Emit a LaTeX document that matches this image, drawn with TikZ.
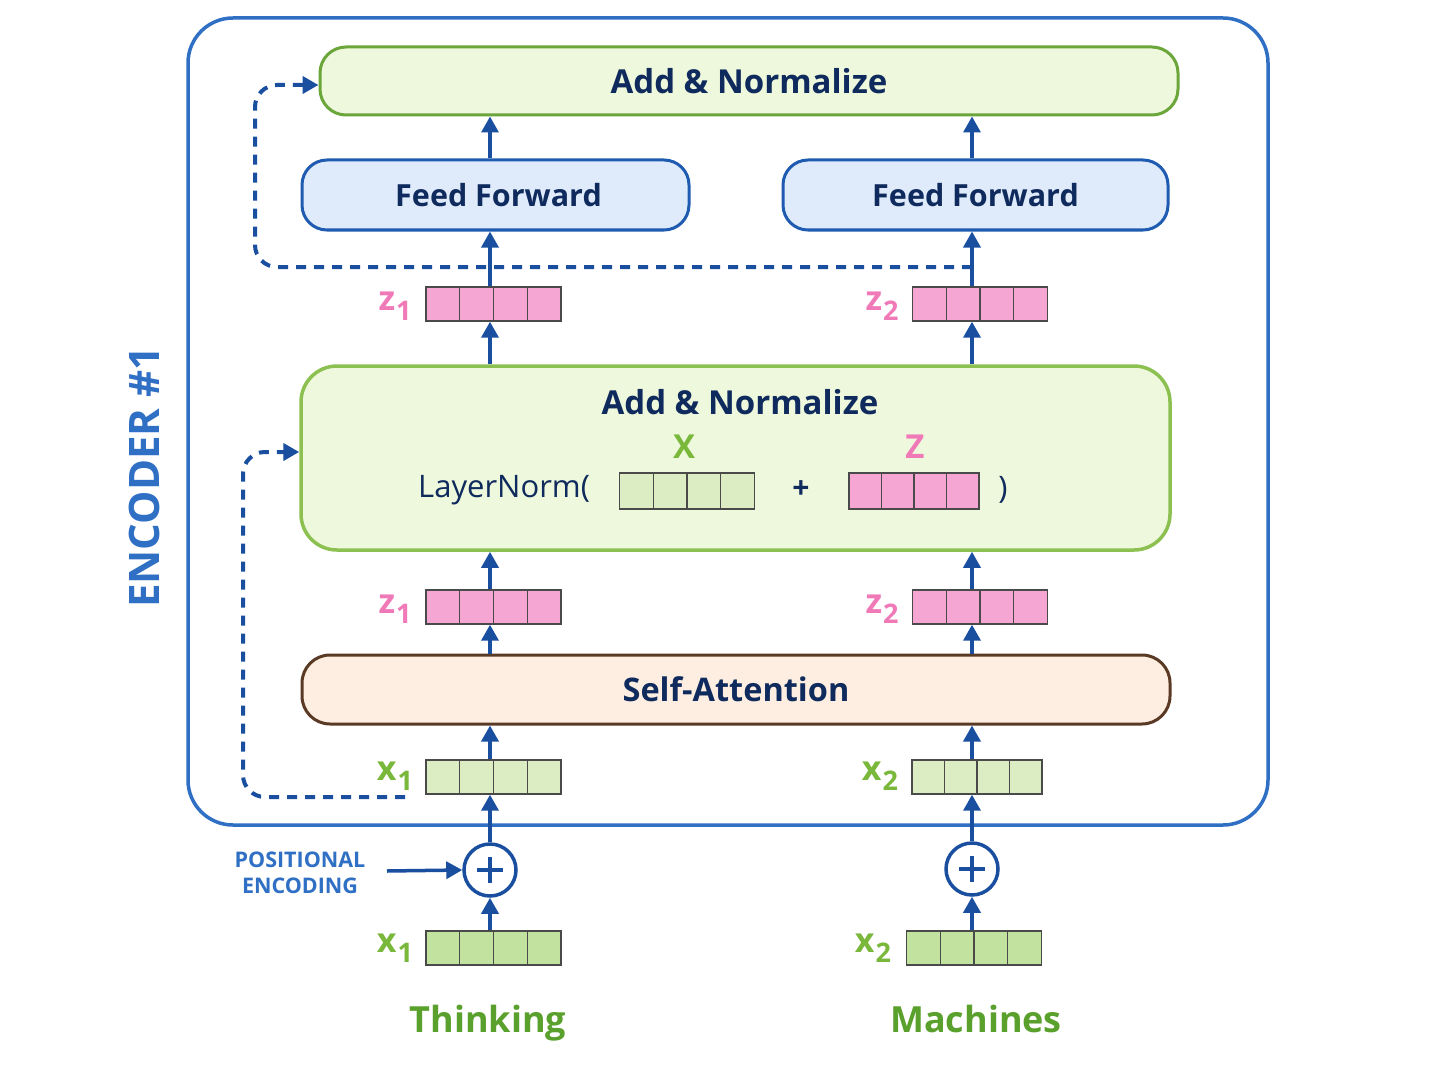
\documentclass[tikz,border=0pt]{standalone}
\usepackage{fontspec}
\setmainfont{Open Sans}
\usetikzlibrary{arrows.meta,calc}
\definecolor{navy}{HTML}{0F2A5C}
\definecolor{encblue}{HTML}{2F6FC4}
\definecolor{arrblue}{HTML}{1A4FA0}
\definecolor{pinkfill}{HTML}{F6A6D2}
\definecolor{pinktext}{HTML}{F07AB8}
\definecolor{greentext}{HTML}{7AB83C}
\definecolor{greendark}{HTML}{5AA02C}
\definecolor{gfillA}{HTML}{DCEDC3}
\definecolor{gfillB}{HTML}{C2E3A0}
\definecolor{vecline}{HTML}{4A4A4A}
\definecolor{addfill}{HTML}{EEF8DC}
\definecolor{addline}{HTML}{6AA63A}
\definecolor{addline2}{HTML}{8CC152}
\definecolor{fffill}{HTML}{DFEBFB}
\definecolor{ffline}{HTML}{1F5BB0}
\definecolor{safill}{HTML}{FDEEE1}
\definecolor{saline}{HTML}{5A3A25}
\tikzset{
  vec/.style={draw=vecline, line width=1.4pt, minimum width=135pt, minimum height=34pt, inner sep=0pt,
    path picture={\foreach \k in {1,2,3}{\draw[vecline,line width=1.4pt]
      ($(path picture bounding box.south west)!\k/4!(path picture bounding box.south east)$) --
      ($(path picture bounding box.north west)!\k/4!(path picture bounding box.north east)$);}}},
  pinkvec/.style={vec, fill=pinkfill},
  gvecA/.style={vec, fill=gfillA},
  gvecB/.style={vec, fill=gfillB},
  arr/.style={draw=arrblue, line width=3.5pt, -{Triangle[length=16pt,width=17pt]}},
  dashline/.style={draw=arrblue, line width=4pt, dash pattern=on 10pt off 8pt, rounded corners=22pt, -{Triangle[length=16pt,width=17pt]}},
  addbox/.style={draw=addline, fill=addfill, line width=3pt, rounded corners=26pt, inner sep=0pt},
  ffbox/.style={draw=ffline, fill=fffill, line width=3pt, rounded corners=25pt, minimum width=387pt, minimum height=70pt, inner sep=0pt,
    font=\fontsize{30.5}{36}\selectfont\bfseries, text=navy},
  sabox/.style={draw=saline, fill=safill, line width=3pt, rounded corners=28pt, inner sep=0pt,
    font=\fontsize{32.5}{36}\selectfont\bfseries, text=navy},
  plusnode/.style={circle, draw=arrblue, line width=3.5pt, minimum size=52pt, inner sep=0pt, fill=white,
    path picture={\draw[arrblue,line width=3.5pt] ([xshift=-13pt]path picture bounding box.center) -- ([xshift=13pt]path picture bounding box.center);
                  \draw[arrblue,line width=3.5pt] ([yshift=-13pt]path picture bounding box.center) -- ([yshift=13pt]path picture bounding box.center);}},
  zlab/.style={text=pinktext, font=\fontsize{34}{34}\selectfont\bfseries, inner sep=0pt},
  xlab/.style={text=greentext, font=\fontsize{34}{34}\selectfont\bfseries, inner sep=0pt},
  word/.style={text=greendark, font=\fontsize{36}{40}\selectfont\bfseries, anchor=base, inner sep=0pt},
}
\newcommand{\subs}[2]{#1\kern1pt\raisebox{-0.28em}{\fontsize{27}{27}\selectfont #2}}
\begin{document}
\begin{tikzpicture}[x=1pt,y=-1pt]
\useasboundingbox[fill=white] (0,0) rectangle (1448,1086);
\coordinate (c1) at (490,0);
\coordinate (c2) at (972,0);
% encoder frame
\draw[encblue, line width=3.5pt, rounded corners=45pt] (188,18) rectangle (1268,825);
\node[rotate=90, text=encblue, font=\fontsize{42}{42}\selectfont\bfseries] (enc) at (144,477) {ENCODER \#1};
% top add & normalize
\node[addbox, minimum width=858pt, minimum height=68pt, font=\fontsize{33}{36}\selectfont\bfseries, text=navy] (addtop) at (749,81) {Add \& Normalize};
% feed forwards
\node[ffbox] (ff1) at (495.5,195) {\hspace*{6pt}Feed Forward};
\node[ffbox, minimum width=385pt] (ff2) at (975.5,195) {Feed Forward};
% z vectors upper
\node[pinkvec] (zu1) at (493.5,304) {};
\node[pinkvec] (zu2) at (980,304) {};
\node[zlab] (zu1l) at (395,306) {\subs{z}{1}};
\node[zlab] (zu2l) at (882,306) {\subs{z}{2}};
% middle add & normalize
\node[draw=addline2, fill=addfill, line width=3.5pt, rounded corners=36pt, minimum width=869pt, minimum height=184pt, inner sep=0pt] (mid) at (735.5,458) {};
\node[text=navy, font=\fontsize{33}{36}\selectfont\bfseries] (midt) at (740,402) {Add \& Normalize};
\node[text=greentext, font=\fontsize{33}{33}\selectfont\bfseries] (xl) at (684,447) {X};
\node[text=pinktext, font=\fontsize{33}{33}\selectfont\bfseries] (zl) at (915,447) {Z};
\node[text=navy, font=\fontsize{31}{34}\selectfont, anchor=west, inner sep=0pt] (ln) at (418,490) {LayerNorm(};
\node[gvecA, minimum height=36pt] (lx) at (687,491) {};
\node[text=navy, font=\fontsize{30}{32}\selectfont\bfseries] (plus) at (801,490) {+};
\node[pinkvec, minimum width=130pt, minimum height=36pt] (lz) at (914,491) {};
\node[text=navy, font=\fontsize{31}{34}\selectfont] (rp) at (1003,490) {)};
% z vectors lower
\node[pinkvec] (zl1) at (493.5,607) {};
\node[pinkvec] (zl2) at (980,607) {};
\node[zlab] (zl1l) at (395,609) {\subs{z}{1}};
\node[zlab] (zl2l) at (882,609) {\subs{z}{2}};
% self-attention
\node[sabox, minimum width=868pt, minimum height=69pt] (sa) at (736,689.5) {Self-Attention};
% x vectors inside
\node[gvecA] (xi1) at (493.5,777) {};
\node[gvecA, minimum width=130pt] (xi2) at (977,777) {};
\node[xlab] (xi1l) at (395,776) {\subs{x}{1}};
\node[xlab] (xi2l) at (880,776) {\subs{x}{2}};
% plus circles
\node[plusnode] (p1) at (490,870) {};
\node[plusnode] (p2) at (972,869) {};
\node[text=encblue, font=\fontsize{21.5}{26}\selectfont\bfseries, align=center] (pe) at (300,873) {POSITIONAL\\ENCODING};
% bottom x vectors
\node[gvecB] (xb1) at (493.5,948) {};
\node[gvecB] (xb2) at (974,948) {};
\node[xlab] (xb1l) at (395,948) {\subs{x}{1}};
\node[xlab] (xb2l) at (873,948) {\subs{x}{2}};
\node[word] (w1) at (488,1032) {Thinking};
\node[word] (w2) at (976,1032) {Machines};
% arrows
\draw[arr] (c1 |- xb1.north) -- (c1 |- p1.south);
\draw[arr] (c2 |- xb2.north) -- (c2 |- p2.south);
\draw[arr] (c1 |- p1.north) -- (c1 |- xi1.south);
\draw[arr] (c2 |- p2.north) -- (c2 |- xi2.south);
\coordinate (pes) at (387,871);
\draw[arr] (pes) -- (p1.west);
\draw[arr] (c1 |- xi1.north) -- (c1 |- sa.south);
\draw[arr] (c2 |- xi2.north) -- (c2 |- sa.south);
\draw[arr] (c1 |- sa.north) -- (c1 |- zl1.south);
\draw[arr] (c2 |- sa.north) -- (c2 |- zl2.south);
\draw[arr] (c1 |- zl1.north) -- (c1 |- mid.south);
\draw[arr] (c2 |- zl2.north) -- (c2 |- mid.south);
\draw[arr] (c1 |- mid.north) -- (c1 |- zu1.south);
\draw[arr] (c2 |- mid.north) -- (c2 |- zu2.south);
\draw[arr] (c1 |- zu1.north) -- (c1 |- ff1.south);
\draw[arr] (c2 |- zu2.north) -- (c2 |- ff2.south);
\draw[arr] (c1 |- ff1.north) -- (c1 |- addtop.south);
\draw[arr] (c2 |- ff2.north) -- (c2 |- addtop.south);
% residual dashed lines
\coordinate (t1) at (972,267);
\coordinate (t2) at (405,797);
\draw[dashline] (t1) -- (255,267) -- (255,85) -- (addtop.west |- 0,85);
\draw[dashline] (t2) -- (243,797) -- (243,452) -- (mid.west |- 0,452);
\end{tikzpicture}
\end{document}
